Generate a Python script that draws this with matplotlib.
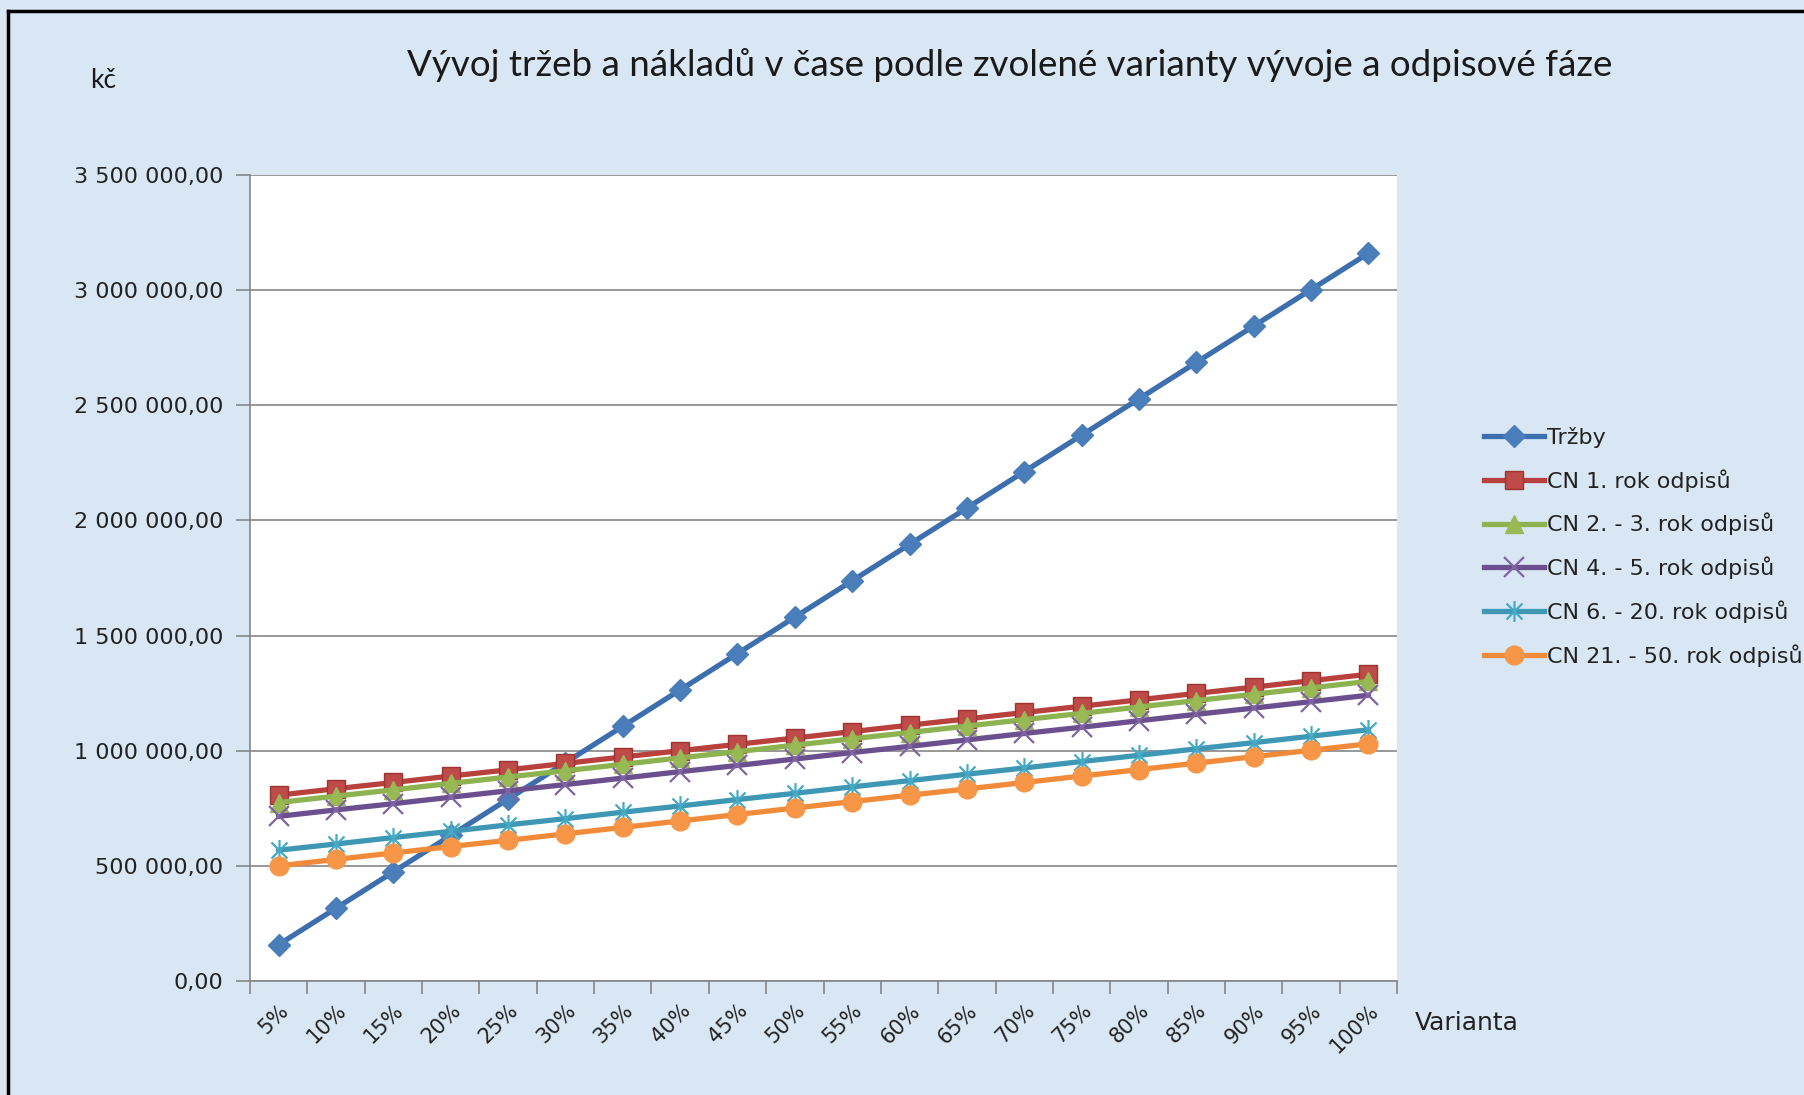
import numpy as np
import matplotlib
matplotlib.use("Agg")
from matplotlib import pyplot as plt
from matplotlib.path import Path
from matplotlib.ticker import FuncFormatter, FixedLocator
from matplotlib.lines import Line2D
from matplotlib.transforms import ScaledTranslation

# data (values in Kc)
varianty = ["5%", "10%", "15%", "20%", "25%", "30%", "35%", "40%", "45%", "50%",
            "55%", "60%", "65%", "70%", "75%", "80%", "85%", "90%", "95%", "100%"]
trzby = [158000, 316000, 474000, 632000, 790000, 948000, 1106000, 1264000, 1422000, 1580000,
         1738000, 1896000, 2054000, 2212000, 2370000, 2528000, 2686000, 2844000, 3002000, 3160000]
cn_1 = [807000, 835000, 862000, 890000, 917000, 945000, 973000, 1000000, 1028000, 1055000,
        1083000, 1111000, 1138000, 1166000, 1193000, 1221000, 1249000, 1276000, 1304000, 1332000]
cn_2_3 = [775000, 803000, 830000, 858000, 886000, 913000, 941000, 969000, 996000, 1024000,
          1052000, 1079000, 1107000, 1135000, 1162000, 1190000, 1218000, 1245000, 1273000, 1301000]
cn_4_5 = [715000, 743000, 770000, 798000, 826000, 853000, 881000, 909000, 936000, 964000,
          992000, 1019000, 1047000, 1075000, 1102000, 1130000, 1158000, 1185000, 1213000, 1241000]
cn_6_20 = [568000, 595000, 623000, 650000, 678000, 705000, 733000, 760000, 788000, 815000,
           843000, 870000, 898000, 925000, 953000, 980000, 1008000, 1035000, 1063000, 1091000]
cn_21_50 = [500000, 528000, 556000, 584000, 611000, 639000, 667000, 695000, 723000, 751000,
            779000, 807000, 834000, 862000, 890000, 918000, 946000, 974000, 1002000, 1030000]
nazvy = ["Tržby", "CN 1. rok odpisů", "CN 2. - 3. rok odpisů", "CN 4. - 5. rok odpisů",
         "CN 6. - 20. rok odpisů", "CN 21. - 50. rok odpisů"]

bg = "#d9e7f4"
grid_col = "#868686"

# asterisk marker like excel (x plus vertical bar)
star_path = Path([(-1, -1), (1, 1), (-1, 1), (1, -1), (0, -1.3), (0, 1.3)],
                 [Path.MOVETO, Path.LINETO, Path.MOVETO, Path.LINETO, Path.MOVETO, Path.LINETO])

fig = plt.figure(figsize=(18.04, 10.95), dpi=100, facecolor=bg)
ax = fig.add_axes([250 / 1804, 1 - 981 / 1095, (1397 - 250) / 1804, (981 - 175) / 1095])
ax.set_facecolor("white")

x = np.arange(len(varianty))
styles = [
    dict(color="#3d6fae", marker="D", ms=11.5, mfc="#4a7ebb", mec="#4a7ebb"),
    dict(color="#b8403d", marker="s", ms=13.5, mfc="#be4b48", mec="#9c3432"),
    dict(color="#8db350", marker="^", ms=12.5, mfc="#98b954", mec="#98b954"),
    dict(color="#6b4f8e", marker="x", ms=14, mec="#8064a2", mew=1.6),
    dict(color="#3e98b5", marker=star_path, ms=15, mec="#46aac5", mew=1.6),
    dict(color="#f18b3a", marker="o", ms=13.5, mfc="#f79646", mec="#f79646"),
]
series = [trzby, cn_1, cn_2_3, cn_4_5, cn_6_20, cn_21_50]
for vals, name, st in zip(series, nazvy, styles):
    ax.plot(x, vals, lw=3.8, label=name, **st)

ax.set_xlim(-0.5, len(varianty) - 0.5)
ax.set_ylim(0, 3500000)
ax.set_yticks(np.arange(0, 3500001, 500000))
ax.yaxis.set_major_formatter(FuncFormatter(lambda v, p: "{:,.2f}".format(v).replace(",", " ").replace(".", ",")))
ax.yaxis.grid(True, color=grid_col, lw=1.2)
ax.set_axisbelow(True)

ax.set_xticks(x)
ax.set_xticklabels(varianty, rotation=45, ha="right", va="top", rotation_mode="anchor")
shift = ScaledTranslation(12 / 100, 10 / 100, fig.dpi_scale_trans)
for lab in ax.get_xticklabels():
    lab.set_transform(lab.get_transform() + shift)
ax.xaxis.set_minor_locator(FixedLocator(np.arange(-0.5, len(varianty), 1)))
ax.tick_params(axis="x", which="major", length=0, pad=14, labelsize=15, labelcolor="#222222")
ax.tick_params(axis="x", which="minor", length=9, color=grid_col, width=1.2)
ax.tick_params(axis="y", length=10, color=grid_col, width=1.2, labelsize=16, labelcolor="#222222", pad=9)

for s in ["top", "right"]:
    ax.spines[s].set_visible(False)
for s in ["left", "bottom"]:
    ax.spines[s].set_color(grid_col)
    ax.spines[s].set_linewidth(1.2)

fig.text(1010 / 1804, 1 - 65 / 1095, "Vývoj tržeb a nákladů v čase podle zvolené varianty vývoje a odpisové fáze",
         ha="center", va="center", fontsize=26.5, family="Lato", color="#1a1a1a")
fig.text(90 / 1804, 1 - 81 / 1095, "kč", ha="left", va="center", fontsize=19, family="Lato", color="#1a1a1a")
fig.text(1415 / 1804, 1 - 1023 / 1095, "Varianta", ha="left", va="center", fontsize=18, color="#222222")

fig.legend(loc="upper left", bbox_to_anchor=(1484 / 1804, 1 - 427 / 1095), frameon=False,
           fontsize=16, handlelength=2.7, handletextpad=0.15, labelspacing=0.95,
           borderpad=0, borderaxespad=0, labelcolor="#222222")

# black frame at left and top
fig.add_artist(Line2D([8 / 1804, 8 / 1804], [0, 1 - 11 / 1095], transform=fig.transFigure, color="black", lw=2.5))
fig.add_artist(Line2D([8 / 1804, 1], [1 - 11 / 1095, 1 - 11 / 1095], transform=fig.transFigure, color="black", lw=2.5))

plt.savefig("out.png", dpi=100, facecolor=bg)
